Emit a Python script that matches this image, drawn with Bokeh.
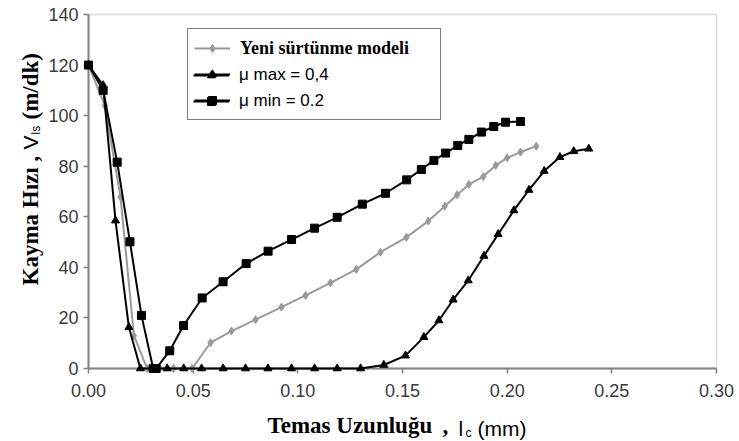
import math
from bokeh.plotting import figure
from bokeh.models import (Range1d, FixedTicker, NumeralTickFormatter, Legend, LegendItem,
                          Label, BoxAnnotation)
from bokeh.embed import file_html
from bokeh.resources import INLINE

# ---------------- data ----------------
yeni_x = [0.0, 0.0078, 0.0153, 0.0217, 0.028, 0.034, 0.0406, 0.0495, 0.0583, 0.0683,
          0.0798, 0.0922, 0.1037, 0.1156, 0.1279, 0.1395, 0.1519, 0.1623, 0.1702, 0.1761,
          0.1817, 0.1886, 0.1945, 0.2000, 0.2064, 0.2139]
yeni_y = [120, 104, 67.8, 13, 0, 0, 0, 0, 10.2, 14.8,
          19.3, 24.3, 28.9, 33.9, 39.2, 46, 51.9, 58.3, 64.2, 68.7,
          72.8, 75.9, 80.3, 83.3, 85.6, 87.9]

mumax_x = [0.0, 0.007, 0.0129, 0.0193, 0.0248, 0.031, 0.0376, 0.0455, 0.054, 0.0643,
           0.075, 0.0857, 0.097, 0.108, 0.1188, 0.13, 0.1411, 0.1514, 0.1602, 0.1674,
           0.1742, 0.1814, 0.1889, 0.1957, 0.2032, 0.2104, 0.2177, 0.2252, 0.2318, 0.239]
mumax_y = [120, 112, 58.5, 16.3, 0, 0, 0, 0, 0, 0,
           0, 0, 0, 0, 0, 0, 1.4, 5.1, 12.4, 19,
           27.2, 34.8, 44.5, 53.1, 62.5, 70.6, 78.1, 83.6, 85.9, 86.9]

mumin_x = [0.0, 0.007, 0.0137, 0.0198, 0.0253, 0.0309, 0.0323, 0.0388, 0.0454, 0.0543,
           0.0643, 0.0753, 0.0858, 0.097, 0.108, 0.1188, 0.1308, 0.1419, 0.152, 0.159,
           0.165, 0.1706, 0.1764, 0.1817, 0.1877, 0.1936, 0.1992, 0.2064]
mumin_y = [120, 110, 81.6, 50.1, 21, 0, 0, 7, 17, 27.9,
           34.3, 41.5, 46.4, 51, 55.5, 59.8, 65, 69.3, 74.6, 78.7,
           82.3, 85.2, 88.2, 90.6, 93.5, 95.7, 97.4, 97.7]

series_names = ["Yeni sürtünme modeli", "μ max = 0,4", "μ min = 0.2"]
x_ticks = [0.0, 0.05, 0.10, 0.15, 0.20, 0.25, 0.30]
y_ticks = [0, 20, 40, 60, 80, 100, 120, 140]
x_title = "Temas Uzunluğu"
y_title = "Kayma Hızı ,"

# ---------------- layout ----------------
W, H = 739, 441
L, R, T, B = 88, 23, 14, 73          # plot-area margins in pixels
XMIN, XMAX, YMIN, YMAX = 0.0, 0.3, 0.0, 140.0
fw = W - L - R
fh = H - T - B
xs = (XMAX - XMIN) / fw
ys = (YMAX - YMIN) / fh

def dx(px):
    return XMIN + (px - L) * xs
def dy(py):
    return YMIN + (H - B - py) * ys

# the frame fills the canvas; axes are pinned to the data origin
p = figure(width=W, height=H,
           x_range=Range1d(dx(0), dx(W)), y_range=Range1d(dy(H), dy(0)),
           output_backend="svg", toolbar_location=None,
           min_border=0, min_border_left=0, min_border_right=0,
           min_border_top=0, min_border_bottom=0)
p.background_fill_color = "white"
p.border_fill_color = "white"
p.outline_line_color = None
p.xgrid.visible = False
p.ygrid.visible = False

# plot-area border (top/right visible, left/bottom under the axes)
p.add_layout(BoxAnnotation(left=XMIN, right=XMAX, bottom=YMIN, top=YMAX,
                           fill_alpha=0.0, line_color="#8c8c8c", line_width=1.5,
                           level="underlay"))

for ax in (p.xaxis, p.yaxis):
    ax.fixed_location = 0
    ax.level = "underlay"
    ax.axis_line_color = "#808080"
    ax.axis_line_width = 2
    ax.major_tick_line_color = "#808080"
    ax.major_tick_line_width = 1.5
    ax.major_tick_out = 5
    ax.major_tick_in = 0
    ax.minor_tick_line_color = None
    ax.major_label_text_font = "Liberation Sans"
    ax.major_label_text_font_size = "18px"
    ax.major_label_text_color = "#3a3a3a"

p.xaxis.bounds = (XMIN, XMAX)
p.yaxis.bounds = (YMIN, YMAX)
p.xaxis.ticker = FixedTicker(ticks=x_ticks)
p.xaxis.formatter = NumeralTickFormatter(format="0.00")
p.xaxis.major_label_standoff = 10
p.yaxis.ticker = FixedTicker(ticks=y_ticks)
p.yaxis.major_label_standoff = 5

# ---------------- series ----------------
gray = "#9a9a9a"
g_line = p.line(yeni_x, yeni_y, line_color=gray, line_width=2)
g_pts = p.scatter(yeni_x, yeni_y, marker="diamond", size=8, fill_color=gray, line_color=gray)

t_line = p.line(mumax_x, mumax_y, line_color="black", line_width=2)
t_pts = p.scatter(mumax_x, mumax_y, marker="triangle", size=8, fill_color="black", line_color="black")

s_line = p.line(mumin_x, mumin_y, line_color="black", line_width=2)
s_pts = p.scatter(mumin_x, mumin_y, marker="square", size=8, fill_color="black", line_color="black")

# ---------------- legend (box + bold serif first row) ----------------
common = dict(location=(187, H - 120), padding=6, spacing=0, label_height=26,
              glyph_height=20, glyph_width=36, label_standoff=10, margin=0)
legA = Legend(items=[LegendItem(label=series_names[0], renderers=[g_line, g_pts]),
                     LegendItem(label=" ", renderers=[t_line, t_pts]),
                     LegendItem(label=" ", renderers=[s_line, s_pts])],
              label_width=194, label_text_font="Liberation Serif", label_text_font_style="bold",
              label_text_font_size="18px", label_text_color="black",
              border_line_color="black", border_line_width=1.5,
              background_fill_color="white", background_fill_alpha=1.0, **common)
legB = Legend(items=[LegendItem(label=series_names[1], renderers=[t_line, t_pts]),
                     LegendItem(label=series_names[2], renderers=[s_line, s_pts])],
              label_text_font="Liberation Sans", label_text_font_size="17px",
              label_text_color="black", border_line_alpha=0.0,
              background_fill_alpha=0.0, **common)
p.add_layout(legA)
p.add_layout(legB)

# ---------------- axis titles ----------------
def lab(px, py, text, font, size, bold=False, angle=0.0):
    p.add_layout(Label(x=dx(px), y=dy(py), text=text, text_font=font,
                       text_font_size=size, text_font_style="bold" if bold else "normal",
                       text_color="black", text_align="left", text_baseline="alphabetic",
                       angle=angle))

# x title
lab(267, 425, x_title, "Liberation Serif", "23px", bold=True)
lab(442, 425, ",", "Liberation Serif", "23px", bold=True)
lab(458, 428, "l", "Liberation Sans", "21px")
lab(465, 432, "c", "Liberation Sans", "12px")
lab(477, 428, "(mm)", "Liberation Sans", "21px")

# y title (rotated, reads bottom to top)
A = math.pi / 2
lab(30, 285, y_title, "Liberation Serif", "23px", bold=True, angle=A)
lab(30, 149, "V", "Liberation Sans", "21px", angle=A)
lab(35, 134, "ls", "Liberation Sans", "12px", angle=A)
lab(30, 119, "(m/dk)", "Liberation Serif", "23px", bold=True, angle=A)

open("out.html", "w").write(file_html(p, INLINE))
